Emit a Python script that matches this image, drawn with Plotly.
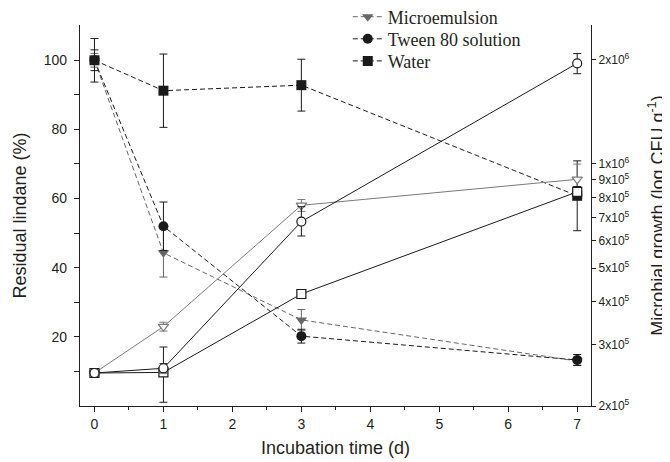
import plotly.graph_objects as go

# ---- data ----
days = [0, 1, 3, 7]

# Residual lindane (%) - left axis
lindane_micro = [100, 44.3, 24.9, 13.0]
lindane_tween = [100, 52.0, 20.2, 13.3]
lindane_water = [100, 91.2, 92.8, 60.8]
lindane_micro_err = [2.0, 7.0, 3.0, 1.2]
lindane_tween_err = [3.0, 7.0, 2.0, 1.6]
lindane_water_err = [6.3, 10.6, 7.5, 10.1]

# Microbial growth (CFU/g) - right log axis
growth_micro = [2.49e5, 3.39e5, 7.59e5, 9.02e5]
growth_tween = [2.49e5, 2.57e5, 6.81e5, 1.95e6]
growth_water = [2.49e5, 2.50e5, 4.21e5, 8.30e5]
growth_micro_err = [0.07e5, 0.10e5, 0.30e5, 0.96e5]
growth_tween_err_plus = [0.07e5, 0.08e5, 0.71e5, 1.3e5]
growth_tween_err_minus = [0.07e5, 0.08e5, 0.62e5, 1.3e5]
growth_water_err_plus = [0.07e5, 0.46e5, 0.08e5, 0.30e5]
growth_water_err_minus = [0.07e5, 0.45e5, 0.08e5, 0.30e5]

series_names = ["Microemulsion", "Tween 80 solution", "Water"]

right_tickvals = [2e5, 3e5, 4e5, 5e5, 6e5, 7e5, 8e5, 9e5, 1e6, 2e6]
right_ticktext = ["2x10<sup>5</sup>", "3x10<sup>5</sup>", "4x10<sup>5</sup>", "5x10<sup>5</sup>",
                  "6x10<sup>5</sup>", "7x10<sup>5</sup>", "8x10<sup>5</sup>", "9x10<sup>5</sup>",
                  "1x10<sup>6</sup>", "2x10<sup>6</sup>"]

GREY = "#666666"
LGREY = "#7a7a7a"
BLACK = "#1a1a1a"
TXT = "#231f20"

fig = go.Figure()

# open markers: microbial growth (solid lines, right axis)
def growth_trace(y, plus, minus, symbol, color):
    return go.Scatter(
        x=days, y=y, yaxis="y2", mode="lines+markers", showlegend=False,
        line=dict(color=color, width=1),
        marker=dict(symbol=symbol, size=9, color="white", line=dict(color=color, width=1.2)),
        error_y=dict(type="data", array=plus, arrayminus=minus, symmetric=False,
                     color=color, thickness=1, width=4),
    )

fig.add_trace(growth_trace(growth_micro, growth_micro_err, growth_micro_err, "triangle-down", LGREY))
fig.add_trace(growth_trace(growth_water, growth_water_err_plus, growth_water_err_minus, "square", BLACK))
fig.add_trace(growth_trace(growth_tween, growth_tween_err_plus, growth_tween_err_minus, "circle", BLACK))

# filled markers: residual lindane (dashed lines, left axis)
def lindane_trace(name, y, err, symbol, color, size, legend):
    return go.Scatter(
        x=days, y=y, name=name, mode="lines+markers", legend=legend,
        line=dict(color=color, width=1, dash="5px,3px"),
        marker=dict(symbol=symbol, size=size, color=color),
        error_y=dict(type="data", array=err, color=color, thickness=1, width=4),
    )

fig.add_trace(lindane_trace(series_names[0], lindane_micro, lindane_micro_err, "triangle-down", GREY, 10, "legend"))
fig.add_trace(lindane_trace(series_names[1], lindane_tween, lindane_tween_err, "circle", BLACK, 10, "legend2"))
fig.add_trace(lindane_trace(series_names[2], lindane_water, lindane_water_err, "square", BLACK, 10, "legend3"))

axis_font = dict(family="Liberation Sans, Arial, sans-serif", size=14, color=TXT)
title_font = dict(family="Liberation Sans, Arial, sans-serif", size=18, color=TXT)
legend_font = dict(family="Liberation Serif, Times New Roman, serif", size=18, color=TXT)

def legend_box(yc):
    return dict(x=0.524, y=yc, xanchor="left", yanchor="middle", font=legend_font,
                bgcolor="rgba(0,0,0,0)", borderwidth=0)

# page body has an 8px default margin; figure is sized/offset to compensate
fig.update_layout(
    width=662, height=454,
    margin=dict(l=72, r=79, t=17, b=56, autoexpand=False),
    paper_bgcolor="white", plot_bgcolor="white",
    showlegend=True,
    legend=legend_box(1.021),
    legend2=legend_box(0.963),
    legend3=legend_box(0.905),
    xaxis=dict(
        range=[-0.21, 7.2], tickvals=list(range(8)), ticks="outside", ticklen=5,
        tickcolor=TXT, tickwidth=1, showline=True, linecolor=TXT, linewidth=1.3,
        showgrid=False, zeroline=False, tickfont=axis_font,
        title=dict(text="Incubation time (d)", font=title_font, standoff=10),
        minor=dict(tickvals=[0.5, 1.5, 2.5, 3.5, 4.5, 5.5, 6.5], ticks="outside",
                   ticklen=3, tickcolor=TXT, tickwidth=1),
    ),
    yaxis=dict(
        range=[0, 110.2], tickvals=[20, 40, 60, 80, 100], ticks="outside", ticklen=5,
        tickcolor=TXT, tickwidth=1, showline=True, linecolor=TXT, linewidth=1.3,
        showgrid=False, zeroline=False, tickfont=axis_font, ticklabelstandoff=4,
        title=dict(text="Residual lindane (%)", font=title_font, standoff=12),
        minor=dict(tickvals=[10, 30, 50, 70, 90], ticks="outside",
                   ticklen=5, tickcolor=TXT, tickwidth=1),
    ),
    yaxis2=dict(
        type="log", overlaying="y", side="right",
        range=[5.30103, 6.4006], tickvals=right_tickvals, ticktext=right_ticktext,
        ticks="outside", ticklen=4, tickcolor=TXT, tickwidth=1,
        showline=True, linecolor=TXT, linewidth=1.3, showgrid=False, zeroline=False,
        tickfont=dict(family="Liberation Sans, Arial, sans-serif", size=12, color=TXT),
        title=dict(text="Microbial growth (log CFU g<sup>-1</sup>)", font=title_font, standoff=22),
    ),
)

fig.write_html("out.html")
